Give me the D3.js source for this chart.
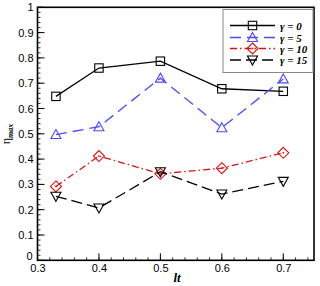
<!DOCTYPE html>
<html><head><meta charset="utf-8">
<script src="https://cdn.jsdelivr.net/npm/d3@7"></script>
<style>body{margin:0;background:#fff}svg{display:block}</style>
</head><body>
<svg id="c" width="320" height="286"></svg>
<script>
const xVals = [0.33, 0.4, 0.5, 0.6, 0.7];
const gamma0 = [0.648, 0.760, 0.787, 0.678, 0.668];
const gamma5 = [0.497, 0.528, 0.720, 0.524, 0.717];
const gamma10 = [0.292, 0.412, 0.342, 0.364, 0.425];
const gamma15 = [0.253, 0.207, 0.350, 0.262, 0.312];
const seriesNames = ["γ = 0", "γ = 5", "γ = 10", "γ = 15"];
const xTicks = [0.3, 0.4, 0.5, 0.6, 0.7];
const yTicks = [0, 0.1, 0.2, 0.3, 0.4, 0.5, 0.6, 0.7, 0.8, 0.9, 1];

const svg = d3.select("#c");
const L = 37.5, R = 314, T = 7.3, B = 260.3;
const x = d3.scaleLinear().domain([0.3, 0.75]).range([L, R]);
const y = d3.scaleLinear().domain([0, 1]).range([B, T]);

const series = [
  {name: seriesNames[0], vals: gamma0, color: "#000", dash: null, marker: "square"},
  {name: seriesNames[1], vals: gamma5, color: "#4a4aff", dash: "11,6", marker: "tri"},
  {name: seriesNames[2], vals: gamma10, color: "#e01010", dash: "7,3,1.5,3", marker: "diamond"},
  {name: seriesNames[3], vals: gamma15, color: "#000", dash: "11,5", marker: "itri"}
];

// minor + major ticks (inward)
const g = svg.append("g");
const xMinor = d3.range(0.3, 0.7501, 0.02);
xMinor.forEach(v => g.append("line").attr("x1", x(v)).attr("x2", x(v)).attr("y1", B).attr("y2", B - 3).attr("stroke", "#000").attr("stroke-width", 0.8));
xTicks.forEach(v => g.append("line").attr("x1", x(v)).attr("x2", x(v)).attr("y1", B).attr("y2", B - 7).attr("stroke", "#000").attr("stroke-width", 1));
const yMinor = d3.range(0, 1.0001, 0.02);
yMinor.forEach(v => g.append("line").attr("x1", L).attr("x2", L + 3).attr("y1", y(v)).attr("y2", y(v)).attr("stroke", "#000").attr("stroke-width", 0.8));
yTicks.forEach(v => g.append("line").attr("x1", L).attr("x2", L + 7).attr("y1", y(v)).attr("y2", y(v)).attr("stroke", "#000").attr("stroke-width", 1));

// tick labels
const xAxis = d3.axisBottom(x).tickValues(xTicks).tickSize(0).tickPadding(4).tickFormat(d3.format(".1f"));
const xg = svg.append("g").attr("transform", `translate(0,${B})`).call(xAxis);
xg.select(".domain").remove();
xg.selectAll("text").attr("font-family", "Liberation Sans, Arial, sans-serif").attr("font-size", 11).attr("fill", "#000");
const yAxis = d3.axisLeft(y).tickValues(yTicks).tickSize(0).tickPadding(4).tickFormat(d => d === 0 ? "0" : d === 1 ? "1" : d3.format(".1f")(d));
const yg = svg.append("g").attr("transform", `translate(${L},0)`).call(yAxis);
yg.select(".domain").remove();
yg.selectAll("text").attr("font-family", "Liberation Sans, Arial, sans-serif").attr("font-size", 11).attr("fill", "#000");
yg.selectAll(".tick").filter(d => d === 0).select("text").attr("dy", "-0.05em").attr("x", -5);

// frame
svg.append("rect").attr("x", L).attr("y", T).attr("width", R - L).attr("height", B - T)
  .attr("fill", "none").attr("stroke", "#000").attr("stroke-width", 1.6);

function drawMarker(sel, type, cx, cy, color) {
  const s = 4.2;
  if (type === "square") {
    sel.append("rect").attr("x", cx - s).attr("y", cy - s).attr("width", 2 * s).attr("height", 2 * s)
      .attr("fill", "none").attr("stroke", color).attr("stroke-width", 1.1);
  } else if (type === "tri") {
    sel.append("path").attr("d", `M${cx},${cy - 5}L${cx + 5},${cy + 4}L${cx - 5},${cy + 4}Z`)
      .attr("fill", "none").attr("stroke", color).attr("stroke-width", 1.1);
  } else if (type === "itri") {
    sel.append("path").attr("d", `M${cx},${cy + 5}L${cx + 5},${cy - 4}L${cx - 5},${cy - 4}Z`)
      .attr("fill", "none").attr("stroke", color).attr("stroke-width", 1.1);
  } else if (type === "diamond") {
    sel.append("path").attr("d", `M${cx},${cy - 5.5}L${cx + 5.5},${cy}L${cx},${cy + 5.5}L${cx - 5.5},${cy}Z`)
      .attr("fill", "none").attr("stroke", color).attr("stroke-width", 1.1);
    sel.append("circle").attr("cx", cx).attr("cy", cy).attr("r", 0.9).attr("fill", color);
  }
}

const line = d3.line().x(d => x(d[0])).y(d => y(d[1]));
series.forEach(s => {
  const pts = xVals.map((v, i) => [v, s.vals[i]]);
  svg.append("path").attr("d", line(pts)).attr("fill", "none").attr("stroke", s.color)
    .attr("stroke-width", 1.3).attr("stroke-dasharray", s.dash);
  const mg = svg.append("g");
  pts.forEach(p => drawMarker(mg, s.marker, x(p[0]), y(p[1]), s.color));
});

// legend
const lg = svg.append("g");
lg.append("rect").attr("x", 223).attr("y", 9.5).attr("width", 90).attr("height", 63)
  .attr("fill", "#fff").attr("stroke", "#888").attr("stroke-width", 1);
const rowY = [25.5, 37.5, 48.5, 60];
series.forEach((s, i) => {
  const yy = rowY[i];
  lg.append("line").attr("x1", 230).attr("x2", 275).attr("y1", yy).attr("y2", yy)
    .attr("stroke", s.color).attr("stroke-width", 1.3).attr("stroke-dasharray", s.dash);
  drawMarker(lg, s.marker, 252.5, yy, s.color);
  lg.append("text").attr("x", 280).attr("y", yy + 4).text(s.name)
    .attr("font-family", "Liberation Serif, Times New Roman, serif").attr("font-size", 11)
    .attr("font-style", "italic").attr("font-weight", "bold").attr("fill", "#000");
});

// axis titles
const yt = svg.append("text").attr("transform", `translate(10,${134}) rotate(-90)`)
  .attr("text-anchor", "middle").attr("font-family", "Liberation Serif, Times New Roman, serif").attr("font-size", 12);
yt.append("tspan").text("η");
yt.append("tspan").text("max").attr("font-size", 8).attr("font-style", "italic").attr("font-weight", "bold").attr("dy", 3);

svg.append("text").attr("x", 177).attr("y", 282).attr("text-anchor", "middle")
  .attr("font-family", "Liberation Serif, Times New Roman, serif").attr("font-size", 13)
  .attr("font-style", "italic").attr("font-weight", "bold").text("lt");
</script>
</body></html>
